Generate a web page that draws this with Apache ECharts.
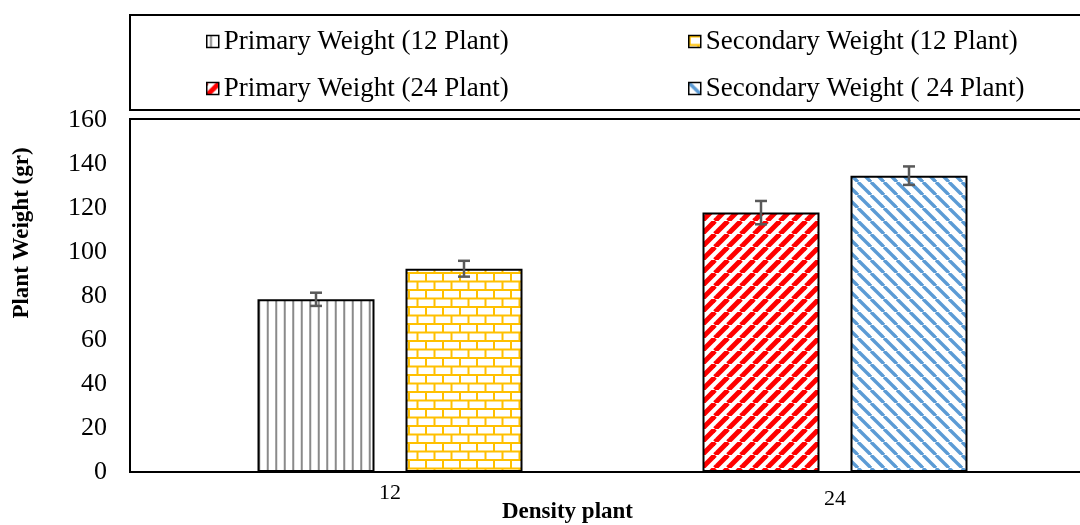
<!DOCTYPE html>
<html>
<head>
<meta charset="utf-8">
<script src="https://cdn.jsdelivr.net/npm/echarts@6/dist/echarts.min.js"></script>
<style>html,body{margin:0;padding:0;background:#fff}#c{width:1080px;height:525px}</style>
</head>
<body>
<div id="c"></div>
<script>
// ---- data ----
const categories = ['12', '24'];
const seriesNames = ['Primary Weight (12 Plant)', 'Secondary Weight (12 Plant)', 'Primary Weight (24 Plant)', 'Secondary Weight ( 24 Plant)'];
const primary12 = [78.5, '-'];
const secondary12 = [92.4, '-'];
const primary24 = ['-', 117.9];
const secondary24 = ['-', 134.7];
const errP12 = [3.0, '-'];
const errS12 = [3.6, '-'];
const errP24 = ['-', 5.3];
const errS24 = ['-', 4.2];
const yTicks = { min: 0, max: 160, interval: 20 };

// ---- patterns ----
function tile(w, h, draw) {
  const c = document.createElement('canvas');
  c.width = w; c.height = h;
  const g = c.getContext('2d');
  g.fillStyle = '#fff'; g.fillRect(0, 0, w, h);
  draw(g, w, h);
  return { image: c, repeat: 'repeat' };
}
const patVert = tile(17, 10, (g, w, h) => {
  g.strokeStyle = '#8a8a8a'; g.lineWidth = 2;
  [4.25, 12.75].forEach(x => { g.beginPath(); g.moveTo(x, 0); g.lineTo(x, h); g.stroke(); });
});
const patBrick = tile(17, 17, (g, w, h) => {
  g.strokeStyle = '#FFC000'; g.lineWidth = 2;
  g.beginPath();
  g.moveTo(0, 1); g.lineTo(w, 1);
  g.moveTo(0, 9.5); g.lineTo(w, 9.5);
  g.moveTo(1, 1); g.lineTo(1, 9.5);
  g.moveTo(9.5, 9.5); g.lineTo(9.5, 17);
  g.stroke();
});
const patRed = tile(13, 13, (g, w, h) => {
  g.strokeStyle = '#FF0000'; g.lineWidth = 5;
  for (let k = -1; k <= 1; k++) { g.beginPath(); g.moveTo(k * w, h); g.lineTo(k * w + w, 0); g.stroke(); }
});
const patBlue = tile(13, 13, (g, w, h) => {
  g.strokeStyle = '#5B9BD5'; g.lineWidth = 3.4;
  for (let k = -1; k <= 1; k++) { g.beginPath(); g.moveTo(k * w, 0); g.lineTo(k * w + w, h); g.stroke(); }
});

// ---- layout ----
const BAR_W = 117, GAP_PX = 31;
const serif = 'Liberation Serif';

const errData = [];
[[primary12, errP12, 0], [secondary12, errS12, 1], [primary24, errP24, 0], [secondary24, errS24, 1]].forEach(([vals, errs, slot]) => {
  vals.forEach((v, i) => { if (v !== '-') errData.push([i, v, errs[i], slot]); });
});

function barSeries(name, data, stack, pat) {
  return {
    name, type: 'bar', data, stack, barWidth: BAR_W, barGap: (GAP_PX / BAR_W * 100) + '%',
    itemStyle: { color: pat, borderColor: '#000', borderWidth: 2 },
    emphasis: { disabled: true }, animation: false
  };
}

const legendCommon = {
  orient: 'vertical', top: 28, itemGap: 20, padding: 0,
  itemWidth: 12, itemHeight: 12, icon: 'rect',
  itemStyle: { borderColor: '#000', borderWidth: 1.5 },
  textStyle: { fontFamily: serif, fontSize: 27, color: '#000' }
};

const chart = echarts.init(document.getElementById('c'), null, { renderer: 'canvas' });
chart.setOption({
  animation: false,
  grid: { left: 167.5, right: 22.5, top: 120, bottom: 53, containLabel: false, outerBoundsMode: 'none' },
  legend: [
    Object.assign({ data: [seriesNames[0], seriesNames[2]], left: 206 }, legendCommon),
    Object.assign({ data: [seriesNames[1], seriesNames[3]], left: 688 }, legendCommon)
  ],
  graphic: [
    { type: 'rect', shape: { x: 130, y: 15, width: 960, height: 95 }, style: { fill: 'none', stroke: '#000', lineWidth: 2 }, silent: true },
    { type: 'rect', shape: { x: 130, y: 119, width: 960, height: 353 }, style: { fill: 'none', stroke: '#000', lineWidth: 2 }, silent: true, z: 10 }
  ],
  xAxis: {
    type: 'category',
    data: [{ value: categories[0] }, { value: categories[1], textStyle: { padding: [6, 0, 0, 0] } }],
    axisLine: { show: false }, axisTick: { show: false },
    axisLabel: { fontFamily: serif, fontSize: 22, color: '#000', margin: 10 },
    name: 'Density plant', nameLocation: 'middle', nameGap: 29, nameMoveOverlap: false,
    nameTextStyle: { fontFamily: serif, fontSize: 23, fontWeight: 'bold', color: '#000', padding: [0, 90, 0, 0] }
  },
  yAxis: {
    type: 'value', min: yTicks.min, max: yTicks.max, interval: yTicks.interval,
    axisLine: { show: false }, axisTick: { show: false }, splitLine: { show: false },
    axisLabel: { fontFamily: serif, fontSize: 26, color: '#000', margin: 60.5 },
    name: 'Plant Weight (gr)', nameLocation: 'middle', nameGap: 134, nameMoveOverlap: false,
    nameTextStyle: { fontFamily: serif, fontSize: 23, fontWeight: 'bold', color: '#000', padding: [0, 0, 0, 126] }
  },
  series: [
    barSeries(seriesNames[0], primary12, 'p', patVert),
    barSeries(seriesNames[1], secondary12, 's', patBrick),
    barSeries(seriesNames[2], primary24, 'p', patRed),
    barSeries(seriesNames[3], secondary24, 's', patBlue),
    {
      type: 'custom', name: 'err', z: 5, data: errData, encode: { x: 0, y: 1 }, silent: true,
      renderItem: function (params, api) {
        const cat = api.value(0), v = api.value(1), e = api.value(2), slot = api.value(3);
        const lo = api.coord([cat, v - e]), hi = api.coord([cat, v + e]);
        const x = lo[0] + (slot === 0 ? -1 : 1) * (BAR_W + GAP_PX) / 2;
        const st = { stroke: '#595959', lineWidth: 2.5 };
        return { type: 'group', children: [
          { type: 'line', shape: { x1: x, y1: lo[1], x2: x, y2: hi[1] }, style: st },
          { type: 'line', shape: { x1: x - 6, y1: lo[1], x2: x + 6, y2: lo[1] }, style: st },
          { type: 'line', shape: { x1: x - 6, y1: hi[1], x2: x + 6, y2: hi[1] }, style: st }
        ] };
      }
    }
  ]
});
</script>
</body>
</html>
